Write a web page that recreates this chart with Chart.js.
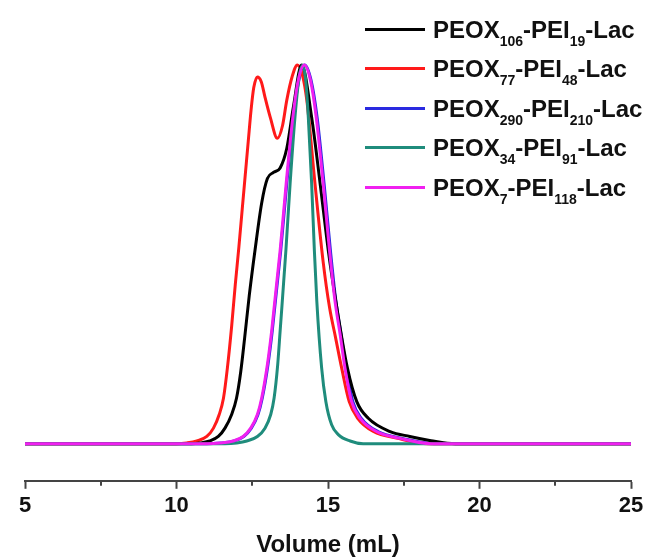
<!DOCTYPE html>
<html><head><meta charset="utf-8">
<script src="https://cdn.jsdelivr.net/npm/chart.js@4"></script>
<style>
html,body{margin:0;padding:0;background:#fff;}
#wrap{position:relative;width:652px;height:560px;overflow:hidden;}
#c{position:absolute;left:0;top:0;}
.row{position:absolute;left:433px;font:bold 24px "Liberation Sans",Arial,sans-serif;line-height:24px;color:#111;white-space:nowrap;}
.row .s{font-size:14px;position:relative;top:8px;}
.ln{position:absolute;left:365px;width:60px;height:3px;}
</style></head>
<body>
<div id="wrap"><canvas id="c" width="652" height="560"></canvas><div id="leg"></div></div>
<script>
// ---- data ----
const seriesNames = ['PEOX106-PEI19-Lac','PEOX77-PEI48-Lac','PEOX290-PEI210-Lac','PEOX34-PEI91-Lac','PEOX7-PEI118-Lac'];
const subPEOX = ['106','77','290','34','7'];
const subPEI = ['19','48','210','91','118'];
const xTicks = [5,10,15,20,25];

const blackVol = [5,10.5,10.78,11.1,11.38,11.6,11.82,11.98,12.12,12.25,12.4,12.59,12.81,13.0,13.2,13.42,13.64,13.86,14.13,14.46,14.74,15.01,15.29,15.64,15.95,16.33,17.05,17.7,18.4,19.2,25];
const blackInt = [0,0,0.002,0.007,0.019,0.041,0.077,0.12,0.19,0.28,0.39,0.51,0.635,0.7,0.716,0.728,0.78,0.89,1.0,0.862,0.687,0.51,0.36,0.2,0.111,0.067,0.032,0.019,0.008,0,0];

const redVol = [5,10.0,10.34,10.67,11.0,11.22,11.41,11.55,11.68,11.82,11.94,12.06,12.17,12.27,12.37,12.46,12.55,12.67,12.8,12.92,13.1,13.33,13.5,13.64,13.82,13.99,14.15,14.3,14.57,14.84,15.05,15.25,15.45,15.7,15.98,16.5,17.3,18.3,25];
const redInt = [0,0,0.002,0.007,0.019,0.041,0.077,0.12,0.2,0.31,0.42,0.52,0.62,0.71,0.8,0.88,0.94,0.968,0.955,0.915,0.86,0.806,0.84,0.907,0.97,1.0,0.975,0.907,0.687,0.48,0.36,0.28,0.2,0.111,0.067,0.032,0.014,0,0];

const blueVol = [5,11.0,11.46,11.9,12.22,12.47,12.69,12.83,13.02,13.16,13.44,13.64,13.86,14.04,14.23,14.44,14.64,14.87,15.08,15.26,15.43,15.6,15.82,16.1,16.65,17.45,18.5,25];
const blueInt = [0,0,0.002,0.007,0.019,0.041,0.077,0.12,0.209,0.297,0.51,0.687,0.862,0.96,1.0,0.96,0.862,0.687,0.51,0.377,0.289,0.2,0.111,0.067,0.032,0.014,0,0];

const tealVol = [5,11.6,11.99,12.32,12.67,12.92,13.11,13.22,13.34,13.42,13.61,13.75,13.91,14.05,14.17,14.27,14.35,14.46,14.55,14.63,14.79,14.93,15.12,15.34,15.73,16.16,25];
const tealInt = [0,0,0.002,0.007,0.019,0.041,0.077,0.12,0.209,0.297,0.51,0.687,0.862,0.97,1.0,0.955,0.862,0.687,0.51,0.377,0.2,0.111,0.05,0.024,0.007,0,0];

const magentaVol = [5,11.0,11.44,11.87,12.2,12.45,12.67,12.81,13.0,13.14,13.42,13.62,13.84,14.02,14.22,14.42,14.61,14.84,15.05,15.23,15.4,15.56,15.78,16.06,16.6,17.38,18.4,25];
const magentaInt = [0,0,0.002,0.007,0.019,0.041,0.077,0.12,0.209,0.297,0.51,0.687,0.862,0.96,1.0,0.96,0.862,0.687,0.51,0.377,0.289,0.2,0.111,0.067,0.032,0.014,0,0];

const colors = ['#000000','#ff1a1a','#2a2ae0','#1f8c7c','#f020f0'];
const drawOrder = [2,3,4,1,0];

function pts(xs, ys){ return xs.map((x,i)=>({x:x, y:ys[i]})); }
const allData = [pts(blackVol,blackInt), pts(redVol,redInt), pts(blueVol,blueInt), pts(tealVol,tealInt), pts(magentaVol,magentaInt)];

const FONT = '"Liberation Sans", Arial, sans-serif';

const minorTicks = {
  id:'minorTicks',
  afterDraw(chart){
    const sc = chart.scales.x, ctx = chart.ctx, b = chart.chartArea.bottom;
    ctx.save(); ctx.strokeStyle = '#444'; ctx.lineWidth = 2;
    sc.ticks.forEach(t=>{
      if (t.value % 5 !== 0){
        const px = Math.round(sc.getPixelForValue(t.value));
        ctx.beginPath(); ctx.moveTo(px, b); ctx.lineTo(px, b+5); ctx.stroke();
      }
    });
    ctx.restore();
  }
};

new Chart(document.getElementById('c'), {
  type:'line',
  data:{ datasets: allData.map((d,i)=>({
    label: seriesNames[i], data:d, borderColor:colors[i], backgroundColor:colors[i],
    borderWidth:3, pointRadius:0, fill:false, cubicInterpolationMode:'monotone', order:drawOrder[i]
  }))},
  options:{
    responsive:false, animation:false, devicePixelRatio:1,
    layout:{padding:{left:25,right:21,top:27,bottom:0}},
    plugins:{legend:{display:false}, tooltip:{enabled:false}},
    scales:{
      x:{type:'linear', min:5, max:25,
        border:{display:true, color:'#444', width:2},
        grid:{display:true, drawOnChartArea:false, drawTicks:true, tickLength:8, tickWidth:2,
          tickColor:(c)=> (c.tick && c.tick.value % 5 === 0) ? '#444' : 'rgba(0,0,0,0)'},
        ticks:{stepSize:2.5, autoSkip:false, maxRotation:0, color:'#111', padding:4,
          font:{family:FONT, size:22, weight:'bold'},
          callback:(v)=> xTicks.includes(v) ? String(v) : ''},
        title:{display:true, text:'Volume (mL)', color:'#111', font:{family:FONT, size:24, weight:'bold'}, padding:{top:8,bottom:0}}
      },
      y:{display:false, min:-0.098, max:1.1}
    }
  },
  plugins:[minorTicks]
});

// legend (HTML, with subscripts)
const leg = document.getElementById('leg');
seriesNames.forEach((n,i)=>{
  const base = 38 + i*39.5;
  const ln = document.createElement('div');
  ln.className='ln'; ln.style.background = colors[i]; ln.style.top = (base-10.5)+'px';
  leg.appendChild(ln);
  const r = document.createElement('div');
  r.className='row'; r.style.top = (base-20.3)+'px';
  r.innerHTML = 'PEOX<span class="s">'+subPEOX[i]+'</span>-PEI<span class="s">'+subPEI[i]+'</span>-Lac';
  leg.appendChild(r);
});
</script>
</body></html>
